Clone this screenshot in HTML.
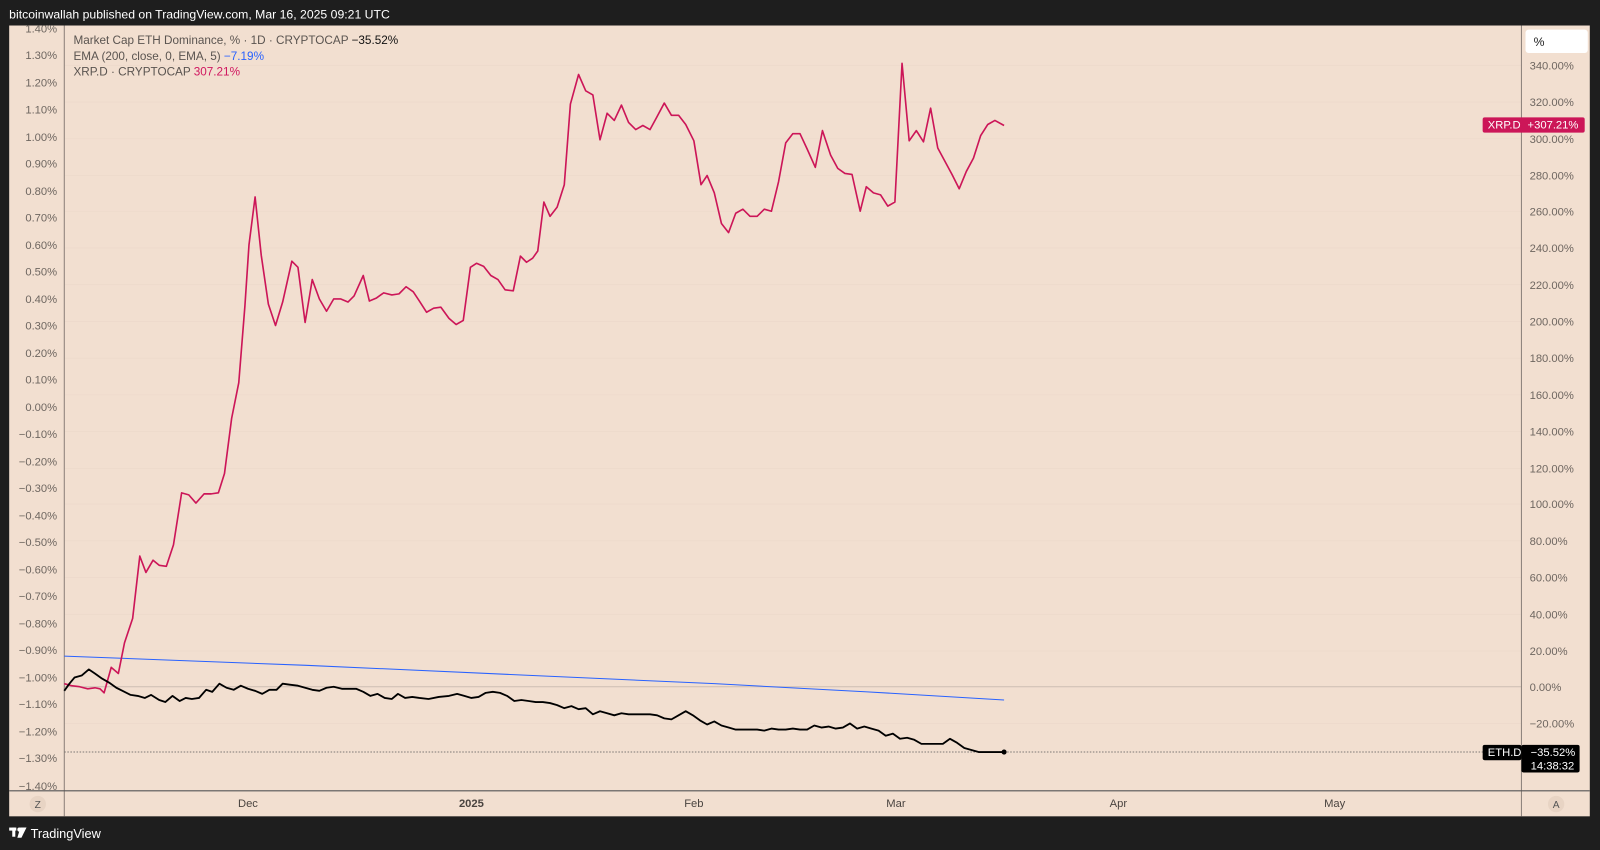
<!DOCTYPE html>
<html><head><meta charset="utf-8"><style>
html,body{margin:0;padding:0;background:#1e1e1e;}
svg{display:block;font-family:"Liberation Sans",sans-serif;}
</style></head><body>
<svg width="1600" height="850" viewBox="0 0 1568 833" preserveAspectRatio="none" xmlns="http://www.w3.org/2000/svg">
<rect width="1568" height="833" fill="#1e1e1e"/>
<text x="9" y="18" fill="#ffffff" font-size="12">bitcoinwallah published on TradingView.com, Mar 16, 2025 09:21 UTC</text>
<rect x="9" y="25" width="1549" height="775" fill="#f2dfd0"/>
<g stroke="#eddacb" stroke-width="0.8">
<line x1="63" y1="64" x2="1491" y2="64"/><line x1="63" y1="100" x2="1491" y2="100"/><line x1="63" y1="136" x2="1491" y2="136"/><line x1="63" y1="172" x2="1491" y2="172"/><line x1="63" y1="207" x2="1491" y2="207"/><line x1="63" y1="243" x2="1491" y2="243"/><line x1="63" y1="279" x2="1491" y2="279"/><line x1="63" y1="315" x2="1491" y2="315"/><line x1="63" y1="351" x2="1491" y2="351"/><line x1="63" y1="387" x2="1491" y2="387"/><line x1="63" y1="423" x2="1491" y2="423"/><line x1="63" y1="459" x2="1491" y2="459"/><line x1="63" y1="494" x2="1491" y2="494"/><line x1="63" y1="530" x2="1491" y2="530"/><line x1="63" y1="566" x2="1491" y2="566"/><line x1="63" y1="602" x2="1491" y2="602"/><line x1="63" y1="638" x2="1491" y2="638"/><line x1="63" y1="709" x2="1491" y2="709"/>
</g>
<line x1="63" y1="673" x2="1491" y2="673" stroke="#cdbdb3" stroke-width="1"/>
<line x1="63" y1="737" x2="1491" y2="737" stroke="#555" stroke-width="0.7" stroke-dasharray="1.5,1.5"/>
<line x1="63" y1="25" x2="63" y2="800" stroke="#8a7f78" stroke-width="1"/>
<line x1="1491" y1="25" x2="1491" y2="800" stroke="#8a7f78" stroke-width="1"/>
<line x1="9" y1="775" x2="1558" y2="775" stroke="#555" stroke-width="1"/>
<g fill="#6e6660" font-size="11" text-anchor="end">
<text x="56" y="32">1.40%</text><text x="56" y="58">1.30%</text><text x="56" y="85">1.20%</text><text x="56" y="111">1.10%</text><text x="56" y="138">1.00%</text><text x="56" y="164">0.90%</text><text x="56" y="191">0.80%</text><text x="56" y="217">0.70%</text><text x="56" y="244">0.60%</text><text x="56" y="270">0.50%</text><text x="56" y="297">0.40%</text><text x="56" y="323">0.30%</text><text x="56" y="350">0.20%</text><text x="56" y="376">0.10%</text><text x="56" y="403">0.00%</text><text x="56" y="429">−0.10%</text><text x="56" y="456">−0.20%</text><text x="56" y="482">−0.30%</text><text x="56" y="509">−0.40%</text><text x="56" y="535">−0.50%</text><text x="56" y="562">−0.60%</text><text x="56" y="588">−0.70%</text><text x="56" y="615">−0.80%</text><text x="56" y="641">−0.90%</text><text x="56" y="668">−1.00%</text><text x="56" y="694">−1.10%</text><text x="56" y="721">−1.20%</text><text x="56" y="747">−1.30%</text><text x="56" y="774">−1.40%</text>
</g>
<g fill="#6e6660" font-size="11">
<text x="1499" y="68">340.00%</text><text x="1499" y="104">320.00%</text><text x="1499" y="140">300.00%</text><text x="1499" y="176">280.00%</text><text x="1499" y="211">260.00%</text><text x="1499" y="247">240.00%</text><text x="1499" y="283">220.00%</text><text x="1499" y="319">200.00%</text><text x="1499" y="355">180.00%</text><text x="1499" y="391">160.00%</text><text x="1499" y="427">140.00%</text><text x="1499" y="463">120.00%</text><text x="1499" y="498">100.00%</text><text x="1499" y="534">80.00%</text><text x="1499" y="570">60.00%</text><text x="1499" y="606">40.00%</text><text x="1499" y="642">20.00%</text><text x="1499" y="677">0.00%</text><text x="1499" y="713">−20.00%</text>
</g>
<rect x="1495" y="29" width="61" height="23" rx="3" fill="#ffffff"/>
<text x="1503" y="45" font-size="12" fill="#222">%</text>
<g fill="#4a4440" font-size="11" text-anchor="middle">
<text x="243" y="791">Dec</text><text x="462" y="791" font-weight="bold">2025</text><text x="680" y="791">Feb</text><text x="878" y="791">Mar</text><text x="1096" y="791">Apr</text><text x="1308" y="791">May</text>
</g>
<circle cx="37" cy="788" r="8" fill="#e8d4c4"/><text x="37" y="792" font-size="10" fill="#555" text-anchor="middle">Z</text>
<circle cx="1525" cy="788" r="8" fill="#e8d4c4"/><text x="1525" y="792" font-size="10" fill="#555" text-anchor="middle">A</text>
<g font-size="11.5">
<text x="72" y="43" fill="#5a5450">Market Cap ETH Dominance, % · 1D · CRYPTOCAP <tspan fill="#111">−35.52%</tspan></text>
<text x="72" y="59" fill="#5a5450">EMA (200, close, 0, EMA, 5) <tspan fill="#2962ff">−7.19%</tspan></text>
<text x="72" y="74" fill="#5a5450">XRP.D · CRYPTOCAP <tspan fill="#d0175f">307.21%</tspan></text>
</g>
<polyline fill="none" stroke="#2962ff" stroke-width="1" points="63,643 300,652 500,661 700,670 850,678 984,686"/>
<polyline fill="none" stroke="#cc1658" stroke-width="1.6" stroke-linejoin="round" points="63,670 70,672 78,673 86,675 93,674 98,675 102,679 109,654 116,660 122,630 130,606 137,545 143,561 150,549 156,554 163,555 170,534 178,483 185,485 192,493 200,484 207,484 214,483 220,464 227,410 234,375 240,300 244,240 250,193 256,250 263,298 270,319 277,296 286,256 292,262 299,316 306,274 313,293 320,305 327,293 334,293 341,296 347,290 356,270 362,295 369,292 376,287 384,289 391,288 398,281 405,286 411,295 418,306 425,302 432,301 440,312 447,318 454,314 461,262 467,258 474,261 481,270 488,274 495,284 503,285 510,251 516,257 522,253 527,246 533,198 539,212 546,203 553,181 559,102 567,73 574,89 581,93 588,137 595,111 602,118 609,103 616,120 623,127 630,123 637,127 643,116 651,101 658,113 665,113 672,122 680,138 687,181 693,172 700,189 707,219 714,228 721,209 728,205 735,212 742,212 749,205 756,207 763,178 770,140 777,131 784,131 791,146 799,164 806,128 814,152 821,165 828,170 835,171 843,207 849,183 856,189 863,191 870,202 877,198 884,62 891,138 898,128 905,139 912,106 919,145 926,158 933,171 940,185 947,168 954,155 961,133 968,122 975,118 984,123"/>
<polyline fill="none" stroke="#000" stroke-width="1.8" stroke-linejoin="round" points="63,677 68,670 73,664 80,662 87,656 93,660 100,665 107,669 114,674 120,677 128,681 135,682 142,684 148,681 156,686 162,688 169,682 176,687 182,684 188,685 195,684 202,676 208,678 215,670 222,674 229,676 236,672 243,675 250,677 257,680 264,676 271,676 277,670 284,671 292,672 299,674 306,676 313,677 320,674 327,673 335,675 342,675 349,675 356,678 363,682 370,680 377,684 384,685 390,680 397,684 404,683 411,684 420,685 430,683 440,682 448,680 455,682 462,684 469,683 476,679 483,678 490,679 497,682 504,687 511,686 518,687 525,688 532,688 539,689 546,691 553,694 560,692 567,695 574,694 581,700 588,697 595,699 602,701 609,699 616,700 623,700 630,700 637,700 644,701 651,704 658,705 665,701 672,697 679,701 686,706 693,710 700,707 707,711 714,713 721,715 728,715 735,715 742,715 749,716 756,714 763,715 770,715 777,714 784,715 791,715 798,711 805,713 812,712 819,714 826,713 833,709 840,714 847,712 854,714 861,716 868,721 875,719 882,724 889,723 896,725 903,729 910,729 917,729 924,729 931,724 938,728 945,733 952,735 959,737 966,737 973,737 984,737"/>
<circle cx="984" cy="737" r="2.5" fill="#000"/>
<rect x="1453" y="115" width="100" height="15" rx="2" fill="#cc1658"/>
<text x="1458" y="126" font-size="11" fill="#fff">XRP.D</text><text x="1497" y="126" font-size="11" fill="#fff">+307.21%</text>
<rect x="1453" y="730" width="38" height="15" rx="2" fill="#000"/>
<text x="1458" y="741" font-size="11" fill="#fff">ETH.D</text>
<rect x="1491" y="730" width="57" height="27" rx="2" fill="#000"/>
<text x="1500" y="741" font-size="11" fill="#fff">−35.52%</text><text x="1500" y="754" font-size="11" fill="#fff">14:38:32</text>
<g fill="#fff">
<rect x="9" y="811" width="7" height="3"/><rect x="12" y="811" width="3" height="9"/><circle cx="19" cy="813" r="2"/><path d="M20,811 L26,811 L21,821 L17,821 Z"/>
</g>
<text x="30" y="821" font-size="12.5" fill="#fff">TradingView</text>
</svg>
</body></html>
